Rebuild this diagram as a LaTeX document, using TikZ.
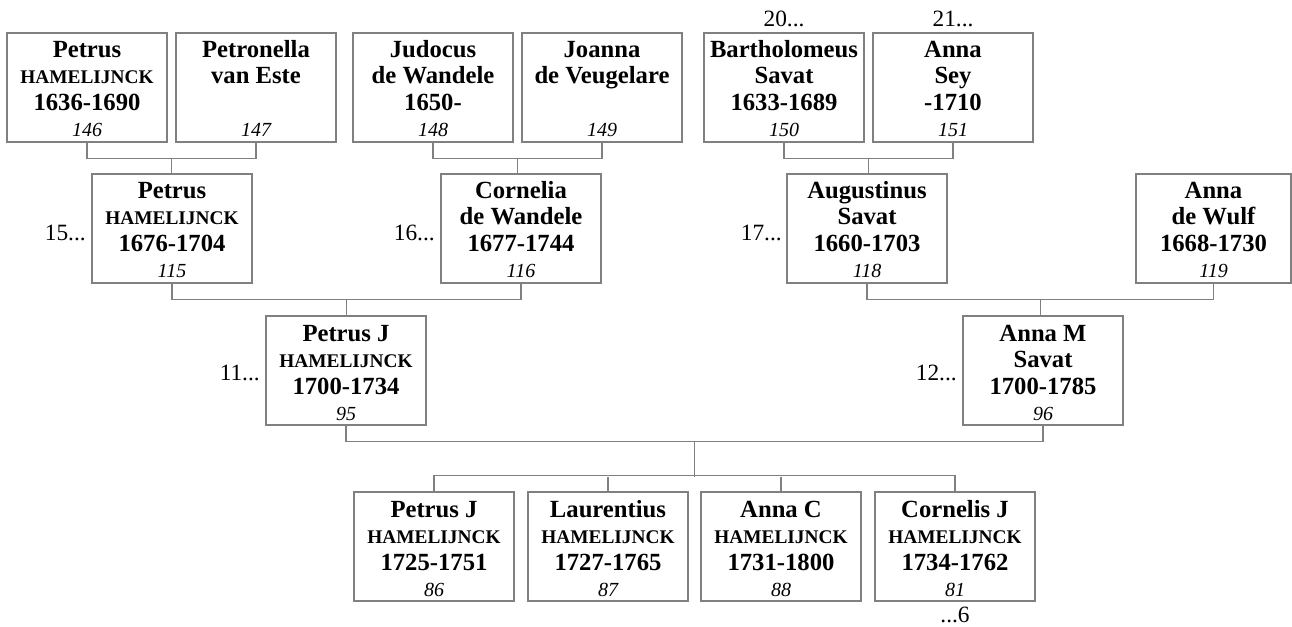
\documentclass[tikz,border=0pt]{standalone}
\usepackage{fontspec}
\setmainfont{Liberation Serif}
\usetikzlibrary{calc}
\tikzset{
  pbox/.style={draw=black!50, line width=0.8pt, minimum width=120pt, minimum height=81.75pt, inner sep=0pt},
  nm/.style={font=\fontsize{18.5}{20}\selectfont\bfseries, inner sep=0pt, anchor=base},
  caps/.style={font=\fontsize{14.5}{16}\selectfont\bfseries, inner sep=0pt, anchor=base},
  num/.style={font=\fontsize{15}{16}\selectfont\itshape, inner sep=0pt, anchor=base},
  lbl/.style={font=\fontsize{17.5}{18}\selectfont, inner sep=0pt},
  conn/.style={draw=black!50, line width=0.8pt}
}
% #1 id, #2 cx, #3 top, #4 line1, #5 line2 style, #6 line2, #7 line3, #8 number
\newcommand{\person}[8]{%
  \node[pbox] (#1) at ($(#2,#3)+(0,54.5)$) {};
  \node[nm] (#1-a) at ($(#2,#3)+(0,25)$) {#4};
  \node[#5] (#1-b) at ($(#2,#3)+(0,51)$) {#6};
  \if\relax\detokenize{#7}\relax\else
    \node[nm] (#1-c) at ($(#2,#3)+(0,78)$) {#7};
  \fi
  \node[num] (#1-d) at ($(#2,#3)+(0,104)$) {#8};
}
\begin{document}
\begin{tikzpicture}[x=0.75pt,y=-0.75pt]
\useasboundingbox (0,0) rectangle (1292,627);
% row 1
\person{p146}{87}{33}{Petrus}{caps}{HAMELIJNCK}{1636-1690}{146}
\person{p147}{256}{33}{Petronella}{nm}{van Este}{}{147}
\person{p148}{433}{33}{Judocus}{nm}{de Wandele}{1650-}{148}
\person{p149}{602}{33}{Joanna}{nm}{de Veugelare}{}{149}
\person{p150}{784}{33}{Bartholomeus}{nm}{Savat}{1633-1689}{150}
\person{p151}{953}{33}{Anna}{nm}{Sey}{-1710}{151}
% row 2
\person{p115}{172}{174}{Petrus}{caps}{HAMELIJNCK}{1676-1704}{115}
\person{p116}{521}{174}{Cornelia}{nm}{de Wandele}{1677-1744}{116}
\person{p118}{867}{174}{Augustinus}{nm}{Savat}{1660-1703}{118}
\begin{scope}[pbox/.append style={minimum width=116.25pt}]
\person{p119}{1213.5}{174}{Anna}{nm}{de Wulf}{1668-1730}{119}
\end{scope}
% row 3
\person{p95}{346}{316}{Petrus J}{caps}{HAMELIJNCK}{1700-1734}{95}
\person{p96}{1043}{316}{Anna M}{nm}{Savat}{1700-1785}{96}
% row 4
\person{p86}{434}{492}{Petrus J}{caps}{HAMELIJNCK}{1725-1751}{86}
\person{p87}{608}{492}{Laurentius}{caps}{HAMELIJNCK}{1727-1765}{87}
\person{p88}{781}{492}{Anna C}{caps}{HAMELIJNCK}{1731-1800}{88}
\person{p81}{955}{492}{Cornelis J}{caps}{HAMELIJNCK}{1734-1762}{81}
% labels
\node[lbl, anchor=base east] (l15) at (86,241) {15...};
\node[lbl, anchor=base east] (l16) at (435,241) {16...};
\node[lbl, anchor=base east] (l17) at (782,241) {17...};
\node[lbl, anchor=base east] (l11) at (260,380) {11...};
\node[lbl, anchor=base east] (l12) at (957,380) {12...};
\node[lbl, anchor=base] (l20) at (784,27) {20...};
\node[lbl, anchor=base] (l21) at (953,27) {21...};
\node[lbl, anchor=base] (l6) at (955,622) {...6};
% connectors
\coordinate (j1) at ($(p146.south)!0.5!(p147.south)+(0,16)$);
\draw[conn] (p146.south) |- (j1) -| (p147.south);
\draw[conn] (j1) -- (j1 |- p115.north);
\coordinate (j2) at ($(p148.south)!0.5!(p149.south)+(0,16)$);
\draw[conn] (p148.south) |- (j2) -| (p149.south);
\draw[conn] (j2) -- (j2 |- p116.north);
\coordinate (j3) at ($(p150.south)!0.5!(p151.south)+(0,16)$);
\draw[conn] (p150.south) |- (j3) -| (p151.south);
\draw[conn] (j3) -- (j3 |- p118.north);
\coordinate (j4) at ($(p115.south)!0.5!(p116.south)+(0,16)$);
\draw[conn] (p115.south) |- (j4) -| (p116.south);
\draw[conn] (j4) -- (j4 |- p95.north);
\coordinate (j5) at ($(p118.south)!0.5!(p119.south)+(0,16)$);
\draw[conn] (p118.south) |- (j5) -| (p119.south);
\draw[conn] (j5) -- (j5 |- p96.north);
\coordinate (j6) at ($(p95.south)!0.5!(p96.south)+(0,16)$);
\draw[conn] (p95.south) |- (j6) -| (p96.south);
\coordinate (k6) at ($(j6)+(0,35)$);
\draw[conn] (j6) -- (k6);
\draw[conn] (p86.north) -- ++(0,-16) -| (p81.north);
\draw[conn] (p87.north) -- (p87.north |- k6);
\draw[conn] (p88.north) -- (p88.north |- k6);
\end{tikzpicture}
\end{document}
